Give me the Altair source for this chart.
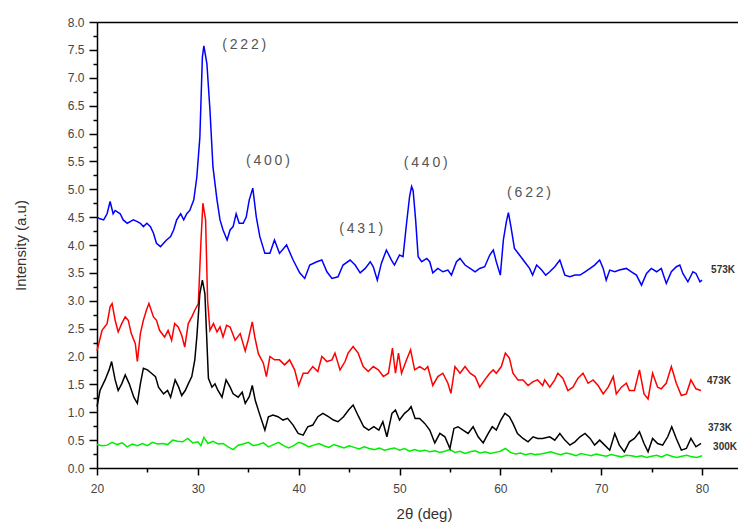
import altair as alt
import pandas as pd

# ---------------- data ----------------
x_573 = [20.0, 20.3, 20.66, 21.0, 21.3, 21.6, 21.8, 22.3, 22.6, 23.0, 23.3, 23.6, 24.0, 24.3, 24.6, 24.95,
         25.3, 25.6, 25.9, 26.3, 26.6, 26.9, 27.3, 27.6, 27.9, 28.3, 28.6, 28.9, 29.2, 29.6, 29.9, 30.2,
         30.45, 30.6, 30.9, 31.2, 31.5, 31.9, 32.2, 32.5, 32.9, 33.2, 33.5, 33.8, 34.1, 34.5, 34.8, 35.1,
         35.45, 35.8, 36.15, 36.65, 37.15, 37.6, 38.1, 38.8, 39.45, 40.1, 40.6, 41.1, 41.8, 42.3, 42.8,
         43.3, 43.9, 44.4, 45.1, 45.6, 46.1, 46.6, 47.1, 47.4, 47.8, 48.2, 48.7, 49.2, 49.5, 50.0, 50.35,
         50.7, 51.0, 51.2, 51.35, 51.6, 51.85, 52.2, 52.7, 53.0, 53.3, 53.8, 54.3, 54.8, 55.15, 55.65,
         56.0, 56.5, 57.0, 57.5, 57.95, 58.45, 58.95, 59.3, 59.6, 60.0, 60.3, 60.6, 60.8, 61.05, 61.4,
         61.9, 62.4, 62.9, 63.2, 63.6, 64.1, 64.5, 64.9, 65.4, 65.9, 66.4, 66.9, 67.4, 67.9, 68.4, 68.9,
         69.35, 69.85, 70.2, 70.5, 70.85, 71.35, 71.8, 72.5, 73.0, 73.5, 74.0, 74.5, 74.97, 75.5, 75.96,
         76.46, 76.96, 77.46, 77.8, 78.1, 78.6, 79.1, 79.4, 79.8, 80.0]
y_573 = [4.50, 4.47, 4.45, 4.56, 4.78, 4.56, 4.62, 4.56, 4.45, 4.39, 4.42, 4.45, 4.42, 4.39, 4.33, 4.39,
         4.33, 4.21, 4.03, 3.97, 4.03, 4.09, 4.15, 4.27, 4.45, 4.56, 4.45, 4.56, 4.62, 4.81, 5.22, 5.93,
         7.37, 7.57, 7.25, 6.43, 5.40, 4.81, 4.45, 4.27, 4.09, 4.27, 4.33, 4.56, 4.39, 4.39, 4.50, 4.81,
         5.02, 4.50, 4.15, 3.85, 3.85, 4.09, 3.85, 4.00, 3.73, 3.50, 3.40, 3.64, 3.70, 3.73, 3.52,
         3.40, 3.43, 3.64, 3.73, 3.64, 3.50, 3.58, 3.70, 3.61, 3.37, 3.67, 3.91, 3.73, 3.64, 3.82, 3.79,
         4.39, 4.87, 5.05, 4.98, 4.45, 3.79, 3.70, 3.76, 3.70, 3.50, 3.58, 3.52, 3.55, 3.46, 3.70,
         3.76, 3.64, 3.58, 3.52, 3.58, 3.61, 3.82, 3.91, 3.70, 3.46, 4.09, 4.42, 4.58, 4.33, 3.94,
         3.82, 3.70, 3.58, 3.46, 3.64, 3.55, 3.46, 3.52, 3.61, 3.73, 3.46, 3.43, 3.46, 3.46, 3.52, 3.58,
         3.64, 3.73, 3.58, 3.37, 3.55, 3.52, 3.55, 3.58, 3.52, 3.46, 3.28, 3.49, 3.58, 3.52, 3.58,
         3.31, 3.52, 3.61, 3.64, 3.49, 3.34, 3.52, 3.49, 3.34, 3.37]

x_473 = [20.0, 20.5, 21.0, 21.3, 21.5, 21.8, 22.1, 22.45, 22.8, 23.1, 23.4, 23.8, 24.0, 24.3, 24.6, 24.9,
         25.15, 25.6, 25.9, 26.2, 26.7, 27.05, 27.4, 27.7, 28.05, 28.4, 28.7, 29.05, 29.4, 29.7, 30.05,
         30.3, 30.5, 30.77, 30.97, 31.2, 31.55, 31.9, 32.2, 32.5, 32.85, 33.2, 33.7, 34.2, 34.7, 35.0,
         35.4, 35.65, 36.0, 36.5, 36.8, 37.15, 37.6, 38.1, 38.6, 39.1, 39.6, 40.0, 40.45, 40.9, 41.4,
         41.9, 42.3, 42.8, 43.3, 43.6, 44.1, 44.6, 44.9, 45.4, 45.9, 46.4, 46.9, 47.4, 47.9, 48.4, 48.9,
         49.3, 49.6, 49.9, 50.2, 50.7, 51.1, 51.5, 52.0, 52.5, 52.8, 53.3, 53.8, 54.3, 54.8, 55.1, 55.5,
         56.0, 56.5, 57.0, 57.5, 57.95, 58.45, 58.95, 59.3, 59.6, 60.1, 60.5, 60.9, 61.25, 61.75, 62.25,
         62.75, 63.25, 63.7, 64.2, 64.4, 64.9, 65.4, 65.7, 66.2, 66.7, 67.2, 67.7, 68.2, 68.7, 69.2,
         69.7, 70.2, 70.7, 71.2, 71.5, 72.0, 72.5, 72.8, 73.3, 73.8, 74.25, 74.65, 75.1, 75.6, 75.96,
         76.45, 76.96, 77.45, 77.95, 78.45, 78.9, 79.4, 79.9]
y_473 = [2.10, 2.47, 2.59, 2.89, 2.95, 2.65, 2.44, 2.59, 2.71, 2.65, 2.41, 2.23, 1.91, 2.41, 2.65, 2.83,
         2.95, 2.71, 2.65, 2.47, 2.35, 2.47, 2.29, 2.59, 2.53, 2.38, 2.17, 2.59, 2.71, 2.83, 2.95,
         4.03, 4.75, 4.45, 3.00, 2.47, 2.59, 2.44, 2.53, 2.35, 2.56, 2.53, 2.29, 2.41, 2.10, 2.30,
         2.62, 2.35, 2.05, 1.88, 1.64, 2.00, 1.94, 1.94, 1.85, 1.94, 1.76, 1.48, 1.70, 1.70, 1.82,
         1.73, 2.00, 1.91, 1.94, 2.06, 1.76, 1.91, 2.06, 2.18, 2.06, 1.82, 1.73, 1.82, 1.76, 1.64, 1.70,
         2.15, 1.70, 2.06, 1.70, 1.94, 2.12, 1.76, 1.82, 1.76, 1.82, 1.48, 1.64, 1.70, 1.52, 1.34, 1.82,
         1.70, 1.82, 1.70, 1.64, 1.45, 1.58, 1.70, 1.76, 1.70, 1.82, 2.06, 1.97, 1.70, 1.58, 1.58,
         1.48, 1.55, 1.58, 1.48, 1.58, 1.45, 1.58, 1.70, 1.61, 1.39, 1.45, 1.61, 1.70, 1.52, 1.58,
         1.48, 1.33, 1.45, 1.64, 1.33, 1.45, 1.52, 1.39, 1.39, 1.76, 1.33, 1.24, 1.70, 1.45, 1.42,
         1.52, 1.82, 1.52, 1.30, 1.33, 1.58, 1.42, 1.39]

x_373 = [20.0, 20.3, 20.8, 21.2, 21.45, 21.8, 22.1, 22.45, 22.8, 23.2, 23.65, 24.0, 24.3, 24.6, 25.0, 25.4,
         25.8, 26.1, 26.6, 27.0, 27.3, 27.75, 28.1, 28.4, 28.75, 29.05, 29.4, 29.7, 29.9, 30.2, 30.45,
         30.7, 30.85, 31.05, 31.4, 31.7, 32.0, 32.4, 32.8, 33.2, 33.5, 34.0, 34.4, 34.7, 35.1, 35.4, 35.7,
         36.1, 36.65, 37.0, 37.45, 37.95, 38.45, 38.9, 39.45, 39.95, 40.45, 40.9, 41.4, 41.9, 42.4, 42.95,
         43.45, 43.9, 44.45, 44.95, 45.4, 45.95, 46.45, 46.95, 47.45, 47.95, 48.35, 48.75, 49.25, 49.6,
         50.0, 50.5, 50.9, 51.15, 51.55, 52.0, 52.5, 53.0, 53.5, 54.0, 54.5, 55.0, 55.4, 55.8, 56.3, 56.8,
         57.3, 57.8, 58.3, 58.8, 59.2, 59.6, 60.05, 60.45, 60.9, 61.25, 61.7, 62.25, 62.75, 63.25, 63.7,
         64.2, 64.9, 65.4, 65.9, 66.4, 66.9, 67.4, 67.9, 68.4, 68.9, 69.35, 69.85, 70.35, 70.85, 71.35,
         71.8, 72.3, 72.8, 73.3, 73.8, 74.25, 74.65, 75.1, 75.6, 76.1, 76.6, 77.0, 77.45, 77.95, 78.45,
         78.9, 79.4, 79.9]
y_373 = [1.10, 1.39, 1.58, 1.76, 1.91, 1.58, 1.39, 1.51, 1.67, 1.51, 1.27, 1.16, 1.51, 1.79, 1.76, 1.70,
         1.64, 1.45, 1.33, 1.39, 1.27, 1.58, 1.45, 1.30, 1.39, 1.51, 1.64, 1.94, 2.35, 3.13, 3.37,
         3.13, 2.47, 1.61, 1.45, 1.51, 1.39, 1.27, 1.58, 1.45, 1.33, 1.27, 1.36, 1.16, 1.28, 1.48, 1.21,
         0.98, 0.68, 0.92, 0.95, 0.92, 0.86, 0.89, 0.77, 0.62, 0.59, 0.74, 0.77, 0.92, 0.98, 0.92,
         0.86, 0.83, 0.92, 1.04, 1.13, 0.92, 0.74, 0.68, 0.74, 0.68, 0.83, 0.56, 0.98, 1.04,
         0.86, 0.98, 1.04, 1.10, 0.89, 0.89, 0.80, 0.68, 0.45, 0.62, 0.56, 0.35, 0.71, 0.74, 0.68, 0.62,
         0.74, 0.56, 0.45, 0.62, 0.74, 0.68, 0.86, 0.98, 0.92, 0.80, 0.62, 0.53, 0.47, 0.56, 0.53,
         0.53, 0.56, 0.50, 0.62, 0.50, 0.41, 0.47, 0.56, 0.62, 0.53, 0.41, 0.50, 0.41, 0.32, 0.62,
         0.41, 0.29, 0.47, 0.53, 0.65, 0.44, 0.29, 0.53, 0.44, 0.41, 0.56, 0.74, 0.53, 0.32, 0.35,
         0.53, 0.38, 0.44]

x_300 = [20.0, 20.5, 21.0, 21.5, 22.0, 22.5, 23.0, 23.5, 24.0, 24.5, 25.0, 25.5, 26.0, 26.5, 27.0, 27.5,
         28.0, 28.5, 29.0, 29.5, 30.0, 30.3, 30.6, 31.0, 31.5, 32.0, 32.5, 33.0, 33.5, 34.0, 34.5, 35.0,
         35.5, 36.0, 36.5, 37.0, 37.5, 38.0, 38.5, 39.0, 39.5, 40.0, 40.5, 41.0, 41.5, 42.0, 42.5, 43.0,
         43.5, 44.0, 44.5, 45.0, 45.5, 46.0, 46.5, 47.0, 47.5, 48.0, 48.5, 49.0, 49.5, 50.0, 50.5, 51.0,
         51.5, 52.0, 52.5, 53.0, 53.5, 54.0, 54.5, 55.0, 55.5, 56.0, 56.5, 57.0, 57.5, 58.0, 58.5, 59.0,
         59.5, 60.0, 60.5, 61.0, 61.5, 62.0, 62.5, 63.0, 63.5, 64.0, 64.5, 65.0, 65.5, 66.0, 66.5, 67.0,
         67.5, 68.0, 68.5, 69.0, 69.5, 70.0, 70.5, 71.0, 71.5, 72.0, 72.5, 73.0, 73.5, 74.0, 74.5, 75.0,
         75.5, 76.0, 76.5, 77.0, 77.5, 78.0, 78.5, 79.0, 79.5, 80.0]
y_300 = [0.42, 0.40, 0.41, 0.46, 0.42, 0.45, 0.38, 0.43, 0.40, 0.44, 0.40, 0.46, 0.43, 0.44, 0.42, 0.50,
         0.48, 0.47, 0.53, 0.45, 0.47, 0.40, 0.55, 0.44, 0.48, 0.43, 0.44, 0.38, 0.33, 0.41, 0.43, 0.46,
         0.40, 0.42, 0.45, 0.38, 0.42, 0.46, 0.40, 0.36, 0.40, 0.46, 0.43, 0.38, 0.41, 0.44, 0.40, 0.37,
         0.42, 0.39, 0.36, 0.40, 0.37, 0.34, 0.38, 0.35, 0.33, 0.36, 0.32, 0.34, 0.36, 0.32, 0.35, 0.30,
         0.33, 0.30, 0.32, 0.29, 0.31, 0.28, 0.30, 0.33, 0.28, 0.30, 0.26, 0.29, 0.31, 0.27, 0.29, 0.26,
         0.28, 0.30, 0.35, 0.28, 0.25, 0.27, 0.24, 0.26, 0.24, 0.25, 0.27, 0.29, 0.26, 0.24, 0.27, 0.25,
         0.22, 0.26, 0.24, 0.22, 0.25, 0.23, 0.21, 0.24, 0.22, 0.20, 0.23, 0.22, 0.20, 0.22, 0.19, 0.21,
         0.23, 0.20, 0.24, 0.21, 0.19, 0.21, 0.23, 0.20, 0.19, 0.22]

# peak annotations (Miller indices)
hkl_labels = ["(222)", "(400)", "(431)", "(440)", "(622)"]
hkl_x = [34.6, 36.95, 46.2, 52.6, 62.85]
hkl_y = [7.59, 5.51, 4.29, 5.47, 4.93]

# temperature labels at the right end of each pattern
temp_labels = ["573K", "473K", "373K", "300K"]
temp_x = [80.9, 80.5, 80.6, 81.1]
temp_y = [3.55, 1.56, 0.72, 0.38]

# axis ticks: labelled (major) and unlabelled (minor)
x_major = [20, 30, 40, 50, 60, 70, 80]
x_minor = [25, 35, 45, 55, 65, 75]
y_major = [0.0, 0.5, 1.0, 1.5, 2.0, 2.5, 3.0, 3.5, 4.0, 4.5, 5.0, 5.5, 6.0, 6.5, 7.0, 7.5, 8.0]
y_minor = [0.25, 0.75, 1.25, 1.75, 2.25, 2.75, 3.25, 3.75, 4.25, 4.75, 5.25, 5.75, 6.25, 6.75,
           7.25, 7.75]

# ---------------- chart ----------------
FONT = "Liberation Sans"
THIN = "\u2009"

def frame(xs, ys):
    return pd.DataFrame(list(zip(xs, ys)), columns=["two_theta", "intensity"])

xscale = alt.Scale(domain=[20, 83.57], nice=False, zero=False)
yscale = alt.Scale(domain=[0, 8], nice=False, zero=False)

common = dict(labelOverlap=False, labelFlush=False, grid=False, tickColor="black", tickWidth=1.5,
              domainColor="black", domainWidth=1.5)

x_axis = alt.Axis(
    values=x_major, format="d", tickSize=7, **common,
    labelFont=FONT, labelFontSize=12, labelColor="#444", labelPadding=8,
    title="2θ (deg)", titleFont=FONT, titleFontSize=15, titleFontWeight="normal",
    titleColor="#333", titleX=327, titleY=45, titleAlign="center", titleBaseline="middle",
)
y_axis = alt.Axis(
    values=y_major, format=".1f", tickSize=8, **common,
    labelFont=FONT, labelFontSize=12, labelColor="#444", labelPadding=5,
    title="Intensity (a.u)", titleFont=FONT, titleFontSize=15, titleFontWeight="normal",
    titleColor="#333", titleX=-77, titleY=223, titleAngle=-90, titleAlign="center",
    titleBaseline="middle",
)
x_axis_minor = alt.Axis(values=x_minor, tickSize=4, labels=False, domain=False, grid=False,
                        tickColor="black", tickWidth=1.5, title=None, orient="bottom")
y_axis_minor = alt.Axis(values=y_minor, tickSize=4, labels=False, domain=False, grid=False,
                        tickColor="black", tickWidth=1.5, title=None, orient="left")

def line_layer(xs, ys, color, xax=None, yax=None):
    return alt.Chart(frame(xs, ys)).mark_line(color=color, strokeWidth=1.5).encode(
        x=alt.X("two_theta:Q", scale=xscale, axis=xax),
        y=alt.Y("intensity:Q", scale=yscale, axis=yax),
    )

green = line_layer(x_300, y_300, "#00EE00", x_axis, y_axis)
blue = line_layer(x_573, y_573, "#0000FF", x_axis_minor, y_axis_minor)
red = line_layer(x_473, y_473, "#FF0000")
black = line_layer(x_373, y_373, "#000000")

hkl_df = pd.DataFrame({
    "label": [THIN.join(list(s)) for s in hkl_labels],
    "two_theta": hkl_x,
    "intensity": hkl_y,
})
hkl_text = alt.Chart(hkl_df).mark_text(
    font=FONT, fontSize=14, color="#555", align="center", baseline="middle"
).encode(
    x=alt.X("two_theta:Q", scale=xscale,
            axis=alt.Axis(orient="top", labels=False, ticks=False, domain=True, grid=False,
                          domainColor="black", domainWidth=1.5, title=None)),
    y=alt.Y("intensity:Q", scale=yscale, axis=None),
    text="label:N",
)

temp_df = pd.DataFrame({"label": temp_labels, "two_theta": temp_x, "intensity": temp_y})
temp_text = alt.Chart(temp_df).mark_text(
    font=FONT, fontSize=10, fontWeight="bold", color="#333", align="left", baseline="middle"
).encode(
    x=alt.X("two_theta:Q", scale=xscale, axis=None),
    y=alt.Y("intensity:Q", scale=yscale, axis=None),
    text="label:N",
)

chart = alt.layer(green, blue, red, black, hkl_text, temp_text).resolve_axis(
    x="independent", y="independent"
).properties(
    width=641, height=446,
    autosize=alt.AutoSizeParams(type="none"),
    padding={"left": 89, "top": 14, "right": 0, "bottom": 55},
    background="white",
).configure_view(strokeWidth=0)

chart.save("out.html", embed_options={"renderer": "svg", "actions": False})
